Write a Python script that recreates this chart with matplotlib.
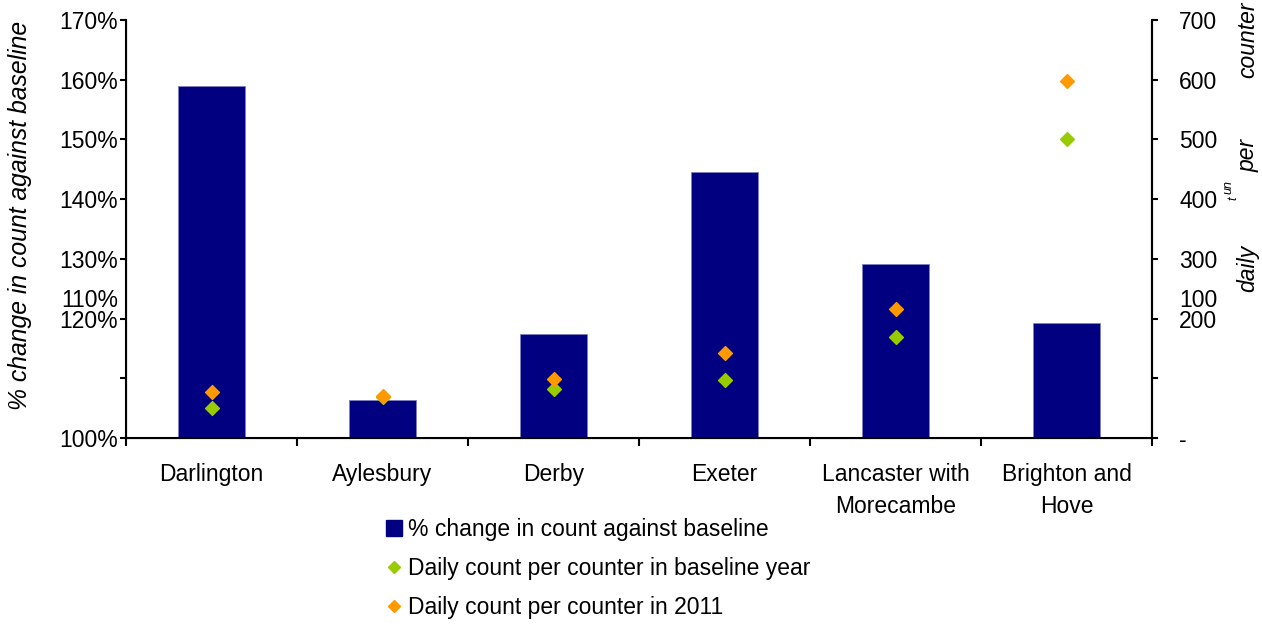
import matplotlib
matplotlib.use("Agg")
import matplotlib.pyplot as plt
from matplotlib.lines import Line2D
import numpy as np

plt.rcParams['font.family'] = ['Liberation Sans', 'DejaVu Sans']
plt.rcParams['font.size'] = 16.5

categories = ['Darlington', 'Aylesbury', 'Derby', 'Exeter',
              'Lancaster with\nMorecambe', 'Brighton and\nHove']
pct_change = [159.0, 106.4, 117.5, 144.6, 129.1, 119.2]
daily_baseline = [50, 68, 82, 97, 169, 501]
daily_2011 = [77, 70, 98, 142, 216, 598]

left_ticks = [100, 110, 120, 130, 140, 150, 160, 170]
left_labels = ['100%', '', '120%', '130%', '140%', '150%', '160%', '170%']
left_extra_pos = [123.5]
left_extra_label = ['110%']
right_ticks = [0, 100, 200, 300, 400, 500, 600, 700]
right_labels = ['-', '', '200', '300', '400', '500', '600', '700']
right_extra_pos = [235]
right_extra_label = ['100']

navy = '#000080'
green = '#99CC00'
orange = '#FF9900'

fig = plt.figure(figsize=(12.62, 6.29), dpi=100)
ax = fig.add_axes([126/1262, 1-438/629, (1152-126)/1262, (438-20)/629])
x = np.arange(len(categories))
ax.bar(x, pct_change, width=0.39, color=navy, edgecolor='#8080c0', linewidth=0.6, zorder=2)
ax.set_ylim(100, 170)
ax.set_xlim(-0.5, len(categories)-0.5)

ax.set_yticks(left_ticks)
ax.set_yticklabels(left_labels)
ax.set_yticks(left_extra_pos, minor=True)
ax.set_yticklabels(left_extra_label, minor=True)
ax.tick_params(axis='y', which='major', direction='out', length=4.5, width=1.5, pad=1)
ax.tick_params(axis='y', which='minor', length=0, pad=5.5)

ax.set_xticks(np.arange(len(categories)+1)-0.5)
ax.set_xticklabels([])
ax.set_xticks(x, minor=True)
ax.set_xticklabels(categories, minor=True, linespacing=1.5)
ax.tick_params(axis='x', which='major', direction='out', length=6, width=1.5)
ax.tick_params(axis='x', which='minor', length=0, pad=18)

ax.set_ylabel('% change in count against baseline', style='italic', fontsize=17.8)
ax.yaxis.set_label_coords((32-126)/1026, (438-215)/418)
ax.spines['top'].set_visible(False)
for s in ['left', 'bottom', 'right']:
    ax.spines[s].set_linewidth(1.5)

ax2 = ax.twinx()
ax2.set_ylim(0, 700)
ax2.scatter(x, daily_baseline, marker='D', s=50, color=green, zorder=3)
ax2.scatter(x, daily_2011, marker='D', s=50, color=orange, zorder=3)
ax2.set_yticks(right_ticks)
ax2.set_yticklabels(right_labels)
ax2.set_yticks(right_extra_pos, minor=True)
ax2.set_yticklabels(right_extra_label, minor=True)
ax2.tick_params(axis='y', which='major', direction='out', length=4.5, width=1.5, pad=15)
ax2.tick_params(axis='y', which='minor', length=0, pad=19.5)
ax2.spines['top'].set_visible(False)
ax2.spines['right'].set_linewidth(1.5)

# broken right-axis title pieces
fig.text(1248/1262, 1-268/629, 'daily', rotation=90, style='italic', ha='center', va='center', fontsize=16.5)
fig.text(1248/1262, 1-155/629, 'per', rotation=90, style='italic', ha='center', va='center', fontsize=16.5)
fig.text(1248/1262, 1-40/629, 'counter', rotation=90, style='italic', ha='center', va='center', fontsize=16.5)
fig.text(1228/1262, 1-187/629, 'un', rotation=90, style='italic', ha='center', va='center', fontsize=9)
fig.text(1233/1262, 1-198/629, 't', rotation=90, style='italic', ha='center', va='center', fontsize=9)

handles = [
    Line2D([], [], marker='s', linestyle='none', markersize=11.5, color=navy),
    Line2D([], [], marker='D', linestyle='none', markersize=6.5, color=green),
    Line2D([], [], marker='D', linestyle='none', markersize=6.5, color=orange),
]
labels = ['% change in count against baseline',
          'Daily count per counter in baseline year',
          'Daily count per counter in 2011']
fig.legend(handles, labels, loc='upper left', bbox_to_anchor=(386/1262, 1-518/629),
           frameon=False, handlelength=0.7, handletextpad=0.25, labelspacing=0.7,
           borderpad=0, borderaxespad=0, fontsize=16.5)

fig.savefig('out.png', dpi=100)
